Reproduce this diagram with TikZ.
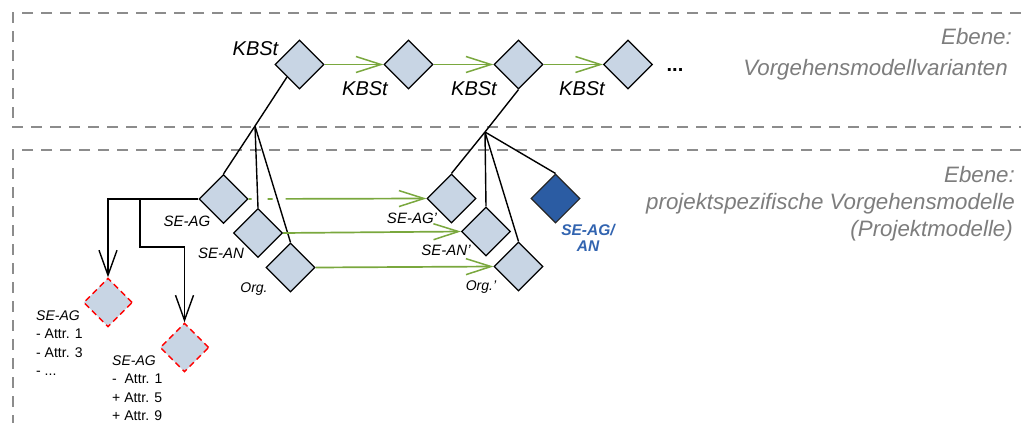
\documentclass[tikz,border=0pt]{standalone}
\usepackage{fontspec}
\setmainfont{Liberation Sans}
\usetikzlibrary{shapes.geometric,arrows.meta}
\definecolor{lblue}{RGB}{200,213,228}
\definecolor{dblue}{RGB}{43,92,163}
\definecolor{tblue}{RGB}{50,100,176}
\definecolor{ggreen}{RGB}{122,168,62}
\definecolor{dgray}{RGB}{140,140,140}
\definecolor{tgray}{RGB}{125,125,125}
\begin{document}
\begin{tikzpicture}[x=1pt,y=-1pt,
  dia/.style={diamond,aspect=1,minimum size=49pt,inner sep=0pt,draw=black,line width=1.2pt,fill=lblue},
  reddia/.style={diamond,aspect=1,minimum size=49pt,inner sep=0pt,draw=red,line width=1.4pt,dash pattern=on 6pt off 4pt,fill=lblue},
  bluedia/.style={diamond,aspect=1,minimum size=49pt,inner sep=0pt,draw=black!85,line width=1.1pt,fill=dblue},
  garrow/.style={draw=ggreen,line width=1.7pt,-{Straight Barb[length=25pt,width=16pt,line width=1.5pt]}},
  barrow/.style={draw=black,line width=1.4pt,-{Straight Barb[length=25pt,width=18pt,line width=1.4pt]}},
  conn/.style={draw=black,line width=1.4pt},
  layer/.style={draw=dgray,line width=1.5pt,dash pattern=on 11pt off 8pt},
  lvl/.style={text=tgray,font=\fontsize{22.3}{26}\selectfont\itshape,inner sep=0pt,anchor=base east},
  kb/.style={font=\fontsize{20}{24}\selectfont\itshape,inner sep=0pt,anchor=base},
  sm/.style={font=\fontsize{15}{18}\selectfont\itshape,inner sep=0pt,anchor=base},
  attr/.style={font=\fontsize{14}{18.5}\selectfont,inner sep=0pt,anchor=base west,align=left}
]
\clip (0,0) rectangle (1021,423);
\fill[white] (0,0) rectangle (1021,423);

% layers
\draw[layer] (1040,13) -- (13,13) -- (13,127) -- (1040,127);
\draw[layer] (1040,150) -- (13,150) -- (13,440);

\node[lvl] (e1) at (1012,45) {Ebene:};
\node[lvl] (e2) at (1008,75) {Vorgehensmodellvarianten};
\node[lvl] (e3) at (1015,182) {Ebene:};
\node[lvl] (e4) at (1015,209) {projektspezifische Vorgehensmodelle};
\node[lvl] (e5) at (1013,236) {(Projektmodelle)};

% top diamonds
\node[dia] (k1) at (299.5,64.5) {};
\node[dia] (k2) at (408.5,64.5) {};
\node[dia] (k3) at (518.5,64.5) {};
\node[dia] (k4) at (628,64.5) {};
\node[font=\fontsize{20}{24}\selectfont\bfseries,inner sep=0pt,anchor=base] (dots) at (675,71) {...};

\draw[garrow] (k1.east) -- (k2.west);
\draw[garrow] (k2.east) -- (k3.west);
\draw[garrow] (k3.east) -- (k4.west);

\node[kb] (l1) at (255.5,55) {KBSt};
\node[kb] (l2) at (365,95) {KBSt};
\node[kb] (l3) at (474,95) {KBSt};
\node[kb] (l4) at (582,95) {KBSt};

% project level diamonds
\node[dia] (seag) at (223.5,199) {};
\node[dia] (sean) at (258,233) {};
\node[dia] (org) at (290.5,267.5) {};
\node[dia] (seag2) at (451.5,198.5) {};
\node[dia] (sean2) at (486,231.5) {};
\node[dia] (org2) at (518.5,266.5) {};
\node[bluedia] (bl) at (555.5,198.5) {};

\coordinate (b1) at (255,126);
\coordinate (b2) at (485,132);

\draw[conn] (k1.south west) -- (b1);
\draw[conn] (b1) -- (seag.north);
\draw[conn] (b1) -- (sean.north);
\draw[conn] (b1) -- (org.north);
\draw[conn] (k3.south) -- (b2);
\draw[conn] (b2) -- (seag2.north);
\draw[conn] (b2) -- (sean2.north);
\draw[conn] (b2) -- (org2.north);
\draw[conn] (b2) -- (bl.north);

\draw[garrow,dash pattern=on 3pt off 16pt on 5pt off 13pt on 400pt] (seag.east) -- (seag2.west);
\draw[garrow] (sean.east) -- (sean2.west);
\draw[garrow] (org.east) -- (org2.west);

\node[sm] (t1) at (187,226) {SE-AG};
\node[sm] (t2) at (221,258) {SE-AN};
\node[sm,font=\fontsize{14}{18}\selectfont\itshape] (t3) at (254,292) {Org.};
\node[sm] (t4) at (412,223) {SE-AG'};
\node[sm] (t5) at (446,255) {SE-AN'};
\node[sm,font=\fontsize{14}{18}\selectfont\itshape] (t6) at (481,290) {Org.'};
\node[sm,text=tblue,font=\fontsize{15.5}{16}\selectfont\bfseries\itshape] (t7) at (588,235) {SE-AG/};
\node[sm,text=tblue,font=\fontsize{15.5}{16}\selectfont\bfseries\itshape] (t8) at (588,251) {AN};

% variants
\node[reddia] (r1) at (108,302.5) {};
\node[reddia] (r2) at (184.5,347.5) {};
\coordinate (j1) at (140,199);
\draw[barrow] (seag.west) -| (r1.north);
\draw[barrow] (j1) -- ++(0,48) -| (r2.north);

\node[attr] (a1) at (36,375.5) {\textit{SE-AG}\\- Attr. 1\\- Attr. 3\\- ...};
\node[attr] (a2) at (112,420.5) {\textit{SE-AG}\\-\ \ Attr. 1\\+ Attr. 5\\+ Attr. 9};
\end{tikzpicture}
\end{document}
